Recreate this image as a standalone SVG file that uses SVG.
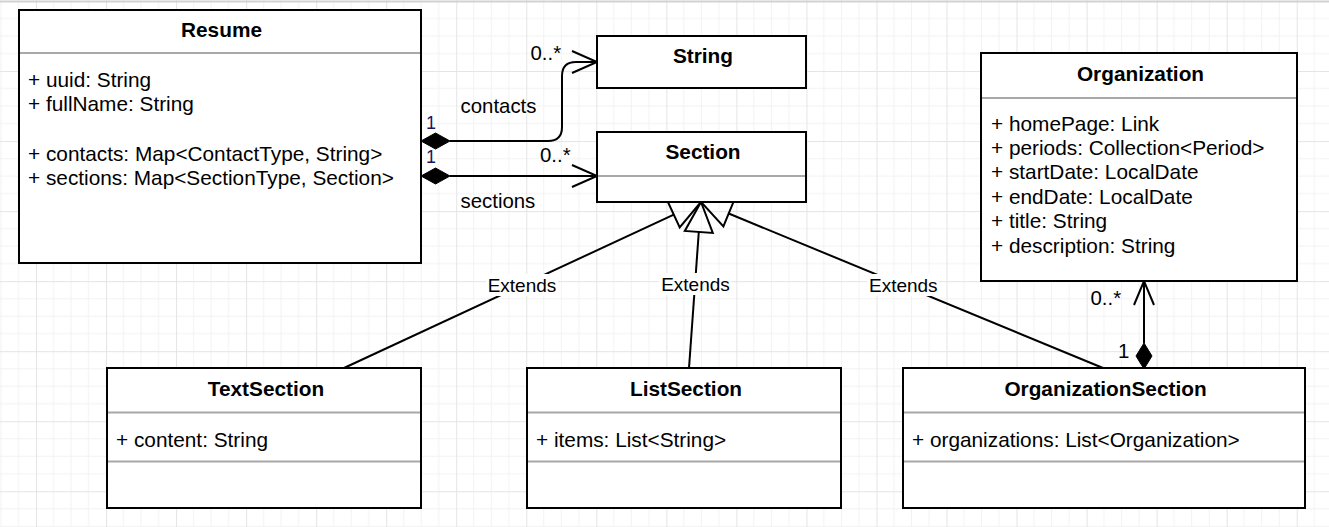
<svg xmlns="http://www.w3.org/2000/svg" width="1329" height="527" viewBox="0 0 1329 527">
  <defs>
    <pattern id="grid" x="36" y="1" width="70.04" height="70.04" patternUnits="userSpaceOnUse">
      <path d="M17.51,0V70.04M35.02,0V70.04M52.53,0V70.04M0,17.51H70.04M0,35.02H70.04M0,52.53H70.04" stroke="#f2f2f2" stroke-width="1" fill="none"/>
      <path d="M0.5,0V70.04M0,0.5H70.04" stroke="#e4e4e4" stroke-width="1" fill="none"/>
    </pattern>
    <style>
      .box { fill: #ffffff; stroke: #000000; stroke-width: 2; }
      .div { stroke: #a8a8a8; stroke-width: 2; }
      .title { font-family: "Liberation Sans", Arial, sans-serif; font-size: 20.8px; font-weight: bold; fill: #000; text-anchor: middle; }
      .attr { font-family: "Liberation Sans", Arial, sans-serif; font-size: 20.8px; fill: #000; }
      .lbl { font-family: "Liberation Sans", Arial, sans-serif; font-size: 20.4px; fill: #000; }
      .one { font-family: "Liberation Sans", Arial, sans-serif; font-size: 18px; fill: #141466; }
      .ext { font-family: "Liberation Sans", Arial, sans-serif; font-size: 19px; fill: #000; text-anchor: middle; }
      .edge { fill: none; stroke: #000; stroke-width: 2; }
      .dia { fill: #000; stroke: #000; stroke-width: 1; }
    </style>
  </defs>
  <rect x="0" y="0" width="1329" height="527" fill="#ffffff"/>
  <rect x="0" y="0" width="1329" height="527" fill="url(#grid)"/>
  <line x1="0" y1="1.5" x2="1329" y2="1.5" stroke="#d2d2d2" stroke-width="2"/>

  <g id="connectors">
    <!-- contacts -->
    <path class="edge" d="M450,141 H548 Q562,141 562,127 V76 Q562,62 576,62 H597"/>
    <path class="edge" d="M572,51 L597,62 L572,73"/>
    <path class="dia" d="M421,141 L435.5,133 L450,141 L435.5,149 Z"/>
    <!-- sections -->
    <path class="edge" d="M450,176 H597"/>
    <path class="edge" d="M572,165 L597,176 L572,187"/>
    <path class="dia" d="M421,176 L435.5,168 L450,176 L435.5,184 Z"/>
    <!-- organizations -->
    <path class="edge" d="M1144,343 V282"/>
    <path class="edge" d="M1134,305 L1144,281 L1154,305"/>
    <path class="dia" d="M1144,369 L1136,356 L1144,343 L1152,356 Z"/>
    <!-- generalizations -->
    <path class="edge" d="M344,368 L673.8,214.6"/>
    <path class="edge" d="M689,368 L698.8,231.9"/>
    <path class="edge" d="M1103,368 L728.7,213.5"/>
    <path class="edge" d="M701,202 L667.9,201.9 L679.7,227.3 Z"/>
    <path class="edge" d="M701,202 L684.8,230.9 L712.8,232.9 Z"/>
    <path class="edge" d="M701,202 L734,200.6 L723.4,226.4 Z"/>
    <!-- labels -->
    <text class="lbl" x="530.5" y="60">0..*</text>
    <text class="lbl" x="460.5" y="112.5">contacts</text>
    <text class="one" x="426" y="129.3">1</text>
    <text class="one" x="426" y="163.3">1</text>
    <text class="lbl" x="540" y="161.7">0..*</text>
    <text class="lbl" x="460.5" y="208.3">sections</text>
    <text class="lbl" x="1090.5" y="305">0..*</text>
    <text class="lbl" x="1118" y="358.3">1</text>
    <rect x="486" y="274" width="72" height="22" fill="#ffffff"/>
    <text class="ext" x="522" y="291.7">Extends</text>
    <rect x="659" y="273" width="72" height="22" fill="#ffffff"/>
    <text class="ext" x="695.5" y="290.7">Extends</text>
    <rect x="867" y="274" width="72" height="22" fill="#ffffff"/>
    <text class="ext" x="903.3" y="291.7">Extends</text>
  </g>

  <g id="resume">
    <rect class="box" x="19" y="10" width="402" height="253"/>
    <line class="div" x1="20" y1="53" x2="420" y2="53"/>
    <text class="title" x="221.5" y="36.7">Resume</text>
    <text class="attr" x="28" y="87">+ uuid: String</text>
    <text class="attr" x="28" y="111">+ fullName: String</text>
    <text class="attr" x="28" y="160.5">+ contacts: Map&lt;ContactType, String&gt;</text>
    <text class="attr" x="28" y="184.5">+ sections: Map&lt;SectionType, Section&gt;</text>
  </g>

  <g id="string">
    <rect class="box" x="597" y="36" width="209" height="52"/>
    <text class="title" x="703" y="63">String</text>
  </g>

  <g id="section">
    <rect class="box" x="597" y="132" width="209" height="70"/>
    <line class="div" x1="598" y1="176" x2="805" y2="176"/>
    <text class="title" x="703" y="159">Section</text>
  </g>

  <g id="organization">
    <rect class="box" x="981" y="53" width="316" height="228"/>
    <line class="div" x1="982" y1="98" x2="1296" y2="98"/>
    <text class="title" x="1140.5" y="81">Organization</text>
    <text class="attr" x="991" y="130.5">+ homePage: Link</text>
    <text class="attr" x="991" y="155">+ periods: Collection&lt;Period&gt;</text>
    <text class="attr" x="991" y="179">+ startDate: LocalDate</text>
    <text class="attr" x="991" y="203.5">+ endDate: LocalDate</text>
    <text class="attr" x="991" y="228">+ title: String</text>
    <text class="attr" x="991" y="252.5">+ description: String</text>
  </g>

  <g id="textsection">
    <rect class="box" x="107" y="368" width="314" height="140"/>
    <line class="div" x1="108" y1="412.5" x2="420" y2="412.5"/>
    <line class="div" x1="108" y1="461.5" x2="420" y2="461.5"/>
    <text class="title" x="266" y="396">TextSection</text>
    <text class="attr" x="116" y="446.5">+ content: String</text>
  </g>

  <g id="listsection">
    <rect class="box" x="527" y="368" width="314" height="140"/>
    <line class="div" x1="528" y1="412.5" x2="840" y2="412.5"/>
    <line class="div" x1="528" y1="461.5" x2="840" y2="461.5"/>
    <text class="title" x="686" y="396">ListSection</text>
    <text class="attr" x="536" y="446.5">+ items: List&lt;String&gt;</text>
  </g>

  <g id="organizationsection">
    <rect class="box" x="903" y="368" width="402" height="140"/>
    <line class="div" x1="904" y1="412.5" x2="1304" y2="412.5"/>
    <line class="div" x1="904" y1="461.5" x2="1304" y2="461.5"/>
    <text class="title" x="1105.5" y="396">OrganizationSection</text>
    <text class="attr" x="912" y="446.5">+ organizations: List&lt;Organization&gt;</text>
  </g>
</svg>
